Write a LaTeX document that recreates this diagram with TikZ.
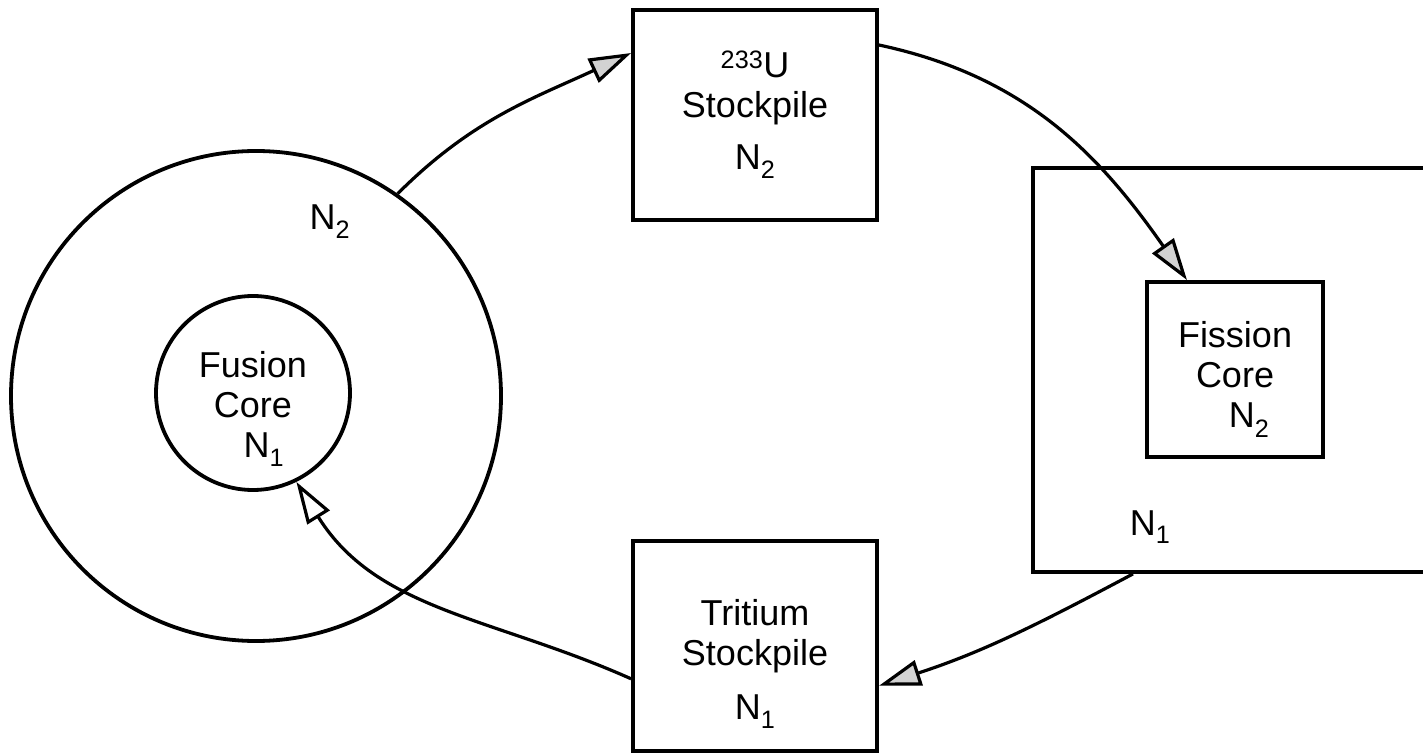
\documentclass[tikz,border=0pt]{standalone}
\usepackage{fontspec}
\setmainfont{Liberation Sans}
\usetikzlibrary{arrows.meta, positioning}

% taller first line, pushes a text block down
\newcommand{\txtlift}[1]{\rule{0pt}{#1}}

\begin{document}
\begin{tikzpicture}[
    x=1pt, y=1pt,
    every node/.style={font=\fontsize{36}{40}\selectfont},
    core/.style={circle, draw=black, line width=3.8pt, inner sep=0pt, align=center},
    stockpile/.style={rectangle, draw=black, line width=3.8pt, minimum width=244pt, minimum height=210pt, align=center},
    region/.style={rectangle, draw=black, line width=3.8pt, minimum width=500pt, minimum height=404pt},
    fissionbox/.style={rectangle, draw=black, line width=3.8pt, minimum width=176pt, minimum height=175pt, align=center},
    tag/.style={inner sep=0pt},
    arrow/.style={line width=3.2pt, -{Triangle[length=42pt, width=26pt, fill=gray!35]}},
    openarrow/.style={line width=3.2pt, -{Triangle[length=42pt, width=26pt, fill=white]}},
]
    \useasboundingbox (0,0) rectangle (1423,753);
    \clip (0,0) rectangle (1423,753);

    % fusion side
    \node (outer) [core, minimum size=490pt] at (256,357) {};
    \node (inner) [core, minimum size=194pt] at (253,360)
      {\txtlift{58pt}Fusion\\Core\\\hspace*{22pt}N\textsubscript{1}};
    \node (outer_tag) [tag] at (330,531) {N\textsubscript{2}};

    % stockpiles
    \node (u233) [stockpile] at (755,638)
      {\textsuperscript{233}U\\Stockpile\\[12pt]N\textsubscript{2}};
    \node (tritium) [stockpile, below=317pt of u233]
      {\txtlift{62pt}Tritium\\Stockpile\\[14pt]N\textsubscript{1}};

    % fission side
    \node (blanket) [region] at (1283,383) {};
    \node (fission) [fissionbox] at (1235,383.5)
      {\txtlift{46pt}Fission\\Core\\\hspace*{28pt}N\textsubscript{2}};
    \node (blanket_tag) [tag] at (1150,226) {N\textsubscript{1}};

    \draw [arrow] (outer.55) to[out=45, in=205] ([yshift=62pt]u233.west);
    \draw [arrow] ([yshift=70pt]u233.east) to[out=-12, in=125] ([xshift=-48pt]fission.north);
    \draw [arrow] ([xshift=-150pt]blanket.south) to[out=208, in=18] ([yshift=-40pt]tritium.east);
    \draw [openarrow] ([yshift=-33pt]tritium.west) to[out=156, in=-58] (inner.-64);

\end{tikzpicture}
\end{document}
